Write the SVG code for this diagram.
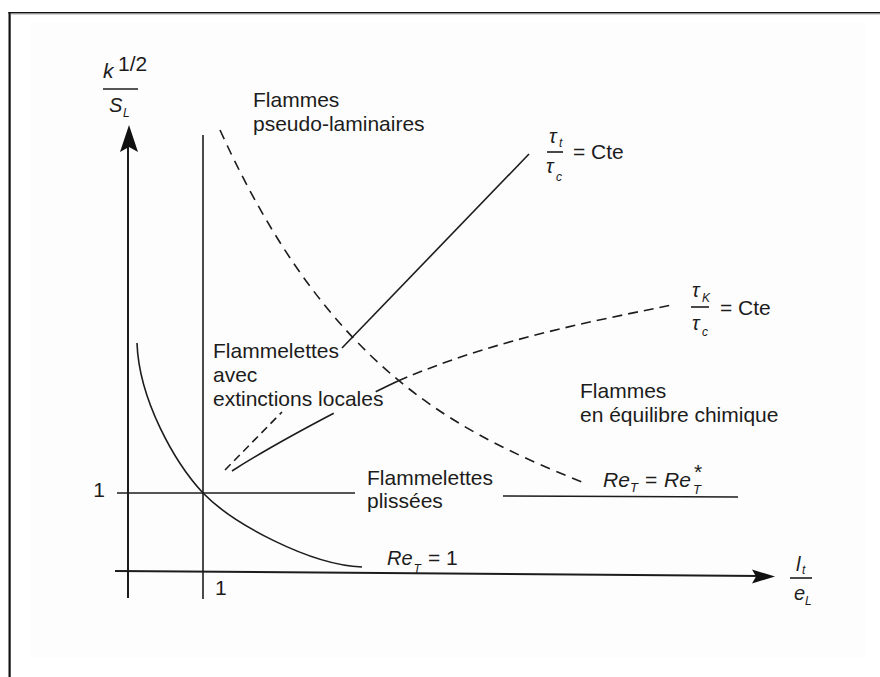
<svg xmlns="http://www.w3.org/2000/svg" width="880" height="677" viewBox="0 0 880 677">
<style>
.t{font-family:"Liberation Sans",Arial,sans-serif;font-size:21px;fill:#1c1c1c}
.i{font-family:"Liberation Sans",Arial,sans-serif;font-style:italic;fill:#1c1c1c}
.ln{fill:none;stroke:#1c1c1c;stroke-width:1.6}
.ax{fill:none;stroke:#1c1c1c;stroke-width:2}
.ds{fill:none;stroke:#1c1c1c;stroke-width:1.6;stroke-dasharray:10 7}
.ah{fill:#111}
</style>
<rect x="0" y="0" width="880" height="677" fill="#ffffff"/>
<rect x="30" y="23" width="835" height="634" fill="#fdfdfd"/>
<rect x="8.5" y="12" width="2.2" height="665" fill="#111"/>
<rect x="8.5" y="12" width="871.5" height="1.6" fill="#111"/>
<rect x="10.7" y="13.6" width="869.3" height="1.2" fill="#c8c8c8"/>

<g id="axes">
  <line class="ax" x1="128" y1="140" x2="128" y2="598"/>
  <polygon class="ah" points="129,125 138,152 129,147 120,152"/>
  <line class="ax" x1="115" y1="571" x2="760" y2="576"/>
  <polygon class="ah" points="775,576.5 752,569.5 756,576.5 752,583.5"/>
</g>

<g id="connectors">
  <line class="ln" x1="203" y1="135" x2="203" y2="599"/>
  <line class="ln" x1="117" y1="493" x2="355" y2="493"/>
  <line class="ln" x1="503" y1="496" x2="738" y2="497"/>
  <path class="ln" d="M137,343 C139,400 175,463 203,493 C233,524 310,565 362,567"/>
  <path class="ds" d="M220,130 C330,372 457,432 587,484"/>
  <line class="ln" x1="225" y1="470" x2="282" y2="412" stroke-dasharray="8 5"/>
  <line class="ln" x1="342" y1="348" x2="529" y2="154"/>
  <path class="ln" d="M232,471 C272,445 353,402 398,381" stroke-dasharray="117 47 30"/>
  <path class="ln" d="M398,381 C488,342 582,323 672,305" stroke-dasharray="10 6"/>
</g>

<g id="y-label">
  <text class="i" x="103" y="78" font-size="21">k</text>
  <text class="t" x="118" y="71" font-size="14">1/2</text>
  <line class="ln" x1="103" y1="89" x2="138" y2="89" stroke-width="1.2"/>
  <text class="i" x="109" y="112" font-size="20">S</text>
  <text class="i" x="123" y="117" font-size="12">L</text>
  <text class="t" x="105" y="497" font-size="15" text-anchor="end">1</text>
</g>

<g id="x-label">
  <text class="i" x="796" y="571" font-size="20">l</text>
  <text class="i" x="802" y="574" font-size="12">t</text>
  <line class="ln" x1="790" y1="578" x2="812" y2="578" stroke-width="1.2"/>
  <text class="i" x="794" y="600" font-size="20">e</text>
  <text class="i" x="805" y="605" font-size="12">L</text>
  <text class="t" x="215" y="595" font-size="16">1</text>
</g>

<g id="pseudo-laminaires">
  <text class="t" x="253" y="107">Flammes</text>
  <text class="t" x="253" y="131">pseudo-laminaires</text>
</g>

<g id="tau-t">
  <text class="i" x="549" y="143" font-size="20">τ</text>
  <text class="i" x="559" y="147" font-size="12">t</text>
  <line class="ln" x1="547" y1="152" x2="563" y2="152" stroke-width="1.2"/>
  <text class="i" x="546" y="173" font-size="20">τ</text>
  <text class="i" x="556" y="181" font-size="12">c</text>
  <text class="t" x="573" y="159" font-size="20">= Cte</text>
</g>

<g id="tau-k">
  <text class="i" x="692" y="297" font-size="20">τ</text>
  <text class="i" x="702" y="302" font-size="12">K</text>
  <line class="ln" x1="691" y1="307" x2="709" y2="307" stroke-width="1.2"/>
  <text class="i" x="692" y="330" font-size="20">τ</text>
  <text class="i" x="702" y="336" font-size="12">c</text>
  <text class="t" x="720" y="315" font-size="20">= Cte</text>
</g>

<g id="extinctions">
  <text class="t" x="213" y="358">Flammelettes</text>
  <text class="t" x="213" y="382">avec</text>
  <text class="t" x="213" y="406">extinctions locales</text>
</g>

<g id="equilibre">
  <text class="t" x="580" y="398">Flammes</text>
  <text class="t" x="580" y="422">en équilibre chimique</text>
</g>

<g id="plissees">
  <text class="t" x="367" y="485">Flammelettes</text>
  <text class="t" x="367" y="508">plissées</text>
</g>

<g id="ret-star">
  <text class="i" x="603" y="487" font-size="21">Re</text>
  <text class="i" x="630" y="492" font-size="13">T</text>
  <text class="t" x="645" y="487" font-size="20">=</text>
  <text class="i" x="664" y="487" font-size="21">Re</text>
  <text class="t" x="694" y="479" font-size="10">*</text>
  <text class="i" x="693" y="494" font-size="13">T</text>
</g>

<g id="ret-one">
  <text class="i" x="387" y="565" font-size="20">Re</text>
  <text class="i" x="413.5" y="573" font-size="12">T</text>
  <text class="t" x="428" y="565" font-size="20">= 1</text>
</g>
</svg>
